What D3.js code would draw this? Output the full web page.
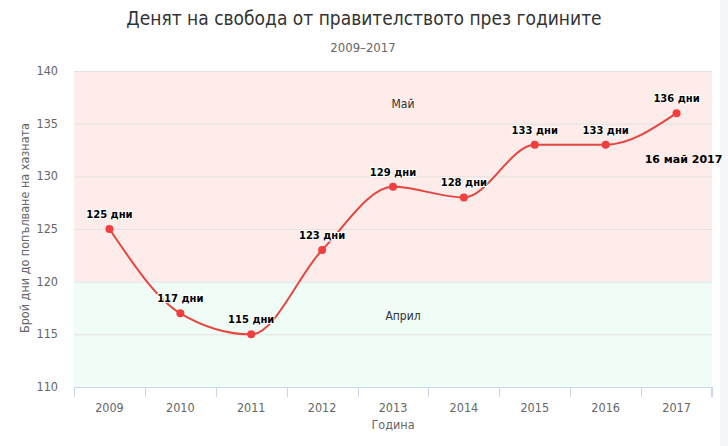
<!DOCTYPE html>
<html><head><meta charset="utf-8">
<script src="https://cdnjs.cloudflare.com/ajax/libs/d3/7.8.5/d3.min.js"></script>
<style>body{margin:0;background:#fff}svg{display:block}</style>
</head><body><svg id="c" width="728" height="446"></svg>
<script>
const years = ["2009","2010","2011","2012","2013","2014","2015","2016","2017"];
const days = [125,117,115,123,129,128,133,133,136];
const yTicks = [110,115,120,125,130,135,140];
const bands = [{from:120,to:140,label:"Май",color:"#fdecea",ly:104},{from:110,to:120,label:"Април",color:"#f0fdf6",ly:316}];
const title = "Денят на свобода от правителството през годините";
const subtitle = "2009–2017";
const yTitle = "Брой дни до попълване на хазната";
const xTitle = "Година";
const annotation = {year:"2017", text:"16 май 2017"};

const svg = d3.select("#c");
const L=74,R=712,T=71,B=387;
const x = d3.scaleBand().domain(years).range([L,R]);
const y = d3.scaleLinear().domain([110,140]).range([B,T]);
const cx = d => x(d)+x.bandwidth()/2;
const FN = "DejaVu Sans Condensed, DejaVu Sans, sans-serif";

svg.append("rect").attr("x",720).attr("y",0).attr("width",8).attr("height",446).attr("fill","#f5f7fb");

svg.selectAll("rect.band").data(bands).enter().append("rect")
  .attr("x",L).attr("width",R-L).attr("y",d=>y(d.to)).attr("height",d=>y(d.from)-y(d.to)).attr("fill",d=>d.color);

svg.selectAll("line.grid").data(yTicks.slice(1)).enter().append("line")
  .attr("x1",L).attr("x2",R).attr("y1",d=>y(d)+0.5).attr("y2",d=>y(d)+0.5).attr("stroke","#e2e2e2");

svg.selectAll("text.bl").data(bands).enter().append("text")
  .attr("x",(L+R)/2+10).attr("y",d=>d.ly+4).attr("text-anchor","middle")
  .attr("font-family",FN).attr("font-size",12).attr("fill","#333").text(d=>d.label);

// y axis labels
svg.selectAll("text.yt").data(yTicks).enter().append("text")
  .attr("x",L-16).attr("y",d=>y(d)+4).attr("text-anchor","end")
  .attr("font-family",FN).attr("font-size",12.5).attr("fill","#666").text(d=>d);

// x axis
const xa = svg.append("g").attr("transform",`translate(0,${B})`)
  .call(d3.axisBottom(x).tickSize(0).tickPadding(16));
xa.select(".domain").attr("stroke","#ccd6eb").attr("d",`M${L+0.5},10V0.5H${R-0.5}V10`);
xa.selectAll("text").attr("font-family",FN).attr("font-size",12.5).attr("fill","#666");
const edges = years.map(d=>x(d)).concat([R]);
xa.selectAll("line.tk").data(edges).enter().append("line")
  .attr("x1",d=>Math.round(d)+0.5).attr("x2",d=>Math.round(d)+0.5).attr("y1",0).attr("y2",10).attr("stroke","#ccd6eb");

// line
const line = d3.line().x((d,i)=>cx(years[i])).y(d=>y(d)).curve(d3.curveMonotoneX);
svg.append("path").attr("d",line(days)).attr("fill","none").attr("stroke","#e8453f").attr("stroke-width",2);
svg.selectAll("circle").data(days).enter().append("circle")
  .attr("cx",(d,i)=>cx(years[i])).attr("cy",d=>y(d)).attr("r",4).attr("fill","#f23e3e");

// data labels
svg.selectAll("text.dl").data(days).enter().append("text")
  .attr("x",(d,i)=>cx(years[i])).attr("y",d=>y(d)-11).attr("text-anchor","middle")
  .attr("font-family","DejaVu Sans, sans-serif").attr("font-weight","bold").attr("font-size",10)
  .attr("fill","#000").attr("stroke","#fff").attr("stroke-width",2).attr("paint-order","stroke")
  .text(d=>d+" дни");

const ai = years.indexOf(annotation.year);
svg.append("text").attr("x",cx(annotation.year)+7).attr("y",y(days[ai])+50).attr("text-anchor","middle")
  .attr("font-family","DejaVu Sans, sans-serif").attr("font-weight","bold").attr("font-size",11).attr("fill","#000").text(annotation.text);

svg.append("text").attr("x",364).attr("y",25).attr("text-anchor","middle")
  .attr("font-family",FN).attr("font-size",19).attr("fill","#333").text(title);
svg.append("text").attr("x",363).attr("y",52).attr("text-anchor","middle")
  .attr("font-family",FN).attr("font-size",13).attr("fill","#666").text(subtitle);
svg.append("text").attr("x",393).attr("y",429).attr("text-anchor","middle")
  .attr("font-family",FN).attr("font-size",12.5).attr("fill","#666").text(xTitle);
svg.append("text").attr("transform",`translate(29,228) rotate(-90)`).attr("text-anchor","middle")
  .attr("font-family",FN).attr("font-size",12).attr("textLength",210).attr("lengthAdjust","spacingAndGlyphs")
  .attr("fill","#666").text(yTitle);
</script></body></html>
